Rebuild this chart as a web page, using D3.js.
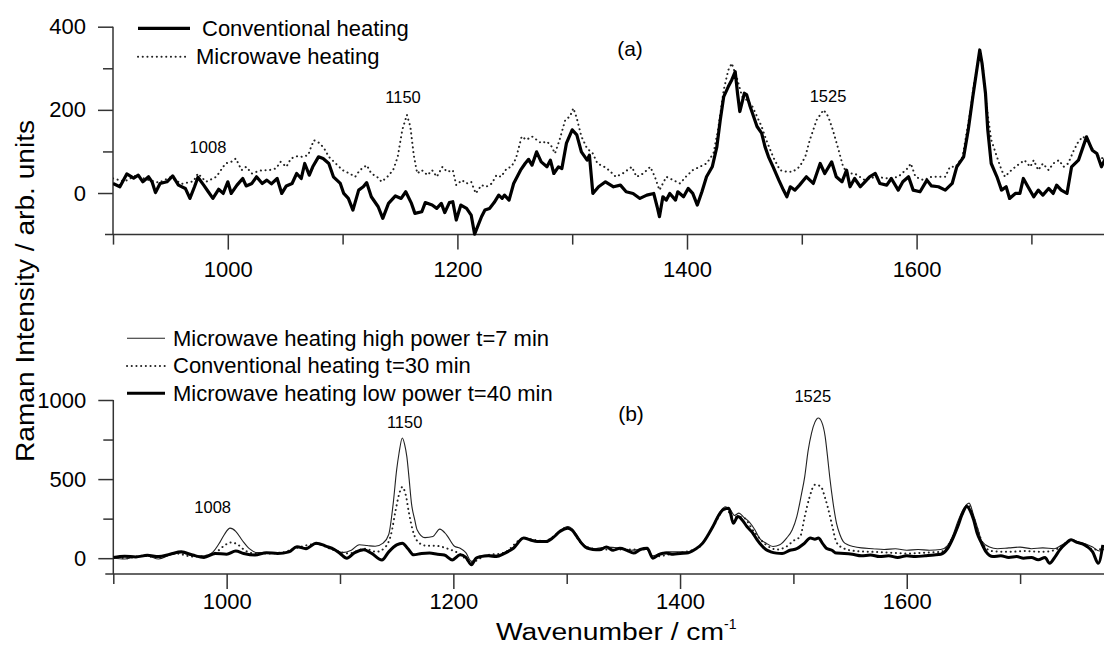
<!DOCTYPE html>
<html><head><meta charset="utf-8">
<script src="https://cdn.jsdelivr.net/npm/d3@7"></script>
<style>
body{margin:0;background:#fff;}
svg{display:block;font-family:"Liberation Sans",Arial,sans-serif;}
.axis path{display:none;}
.axis line{stroke:#333;stroke-width:1.5;}
.axis text{fill:#000;font-size:22px;font-family:"Liberation Sans",Arial,sans-serif;}
</style></head>
<body>
<svg id="c" width="1104" height="648"></svg>
<script>
// ---------- DATA ----------
const xMajorTicks = [1000, 1200, 1400, 1600];
const xMinorTicks = [900, 1100, 1300, 1500, 1700];
const topYMajor = [0, 200, 400];
const topYMinor = [100, 300];
const botYMajor = [0, 500, 1000];
const botYMinor = [250, 750];

// Panel (a): Conventional heating (solid)
const topConv = [[900,23],[906,15],[912,46],[918,36],[922,43],[926,27],[931,39],[934,27],[937,1],[941,23],[947,27],[952,41],[957,19],[963,11],[967,-13],[971,15],[974,38],[979,19],[983,3],[987,-13],[992,9],[996,-1],[1000,27],[1003,-1],[1008,19],[1013,35],[1016,17],[1021,23],[1025,39],[1030,23],[1034,31],[1038,22],[1043,35],[1047,-1],[1051,17],[1056,23],[1060,47],[1064,35],[1067,71],[1071,43],[1074,63],[1079,87],[1083,83],[1088,71],[1092,39],[1098,23],[1101,-1],[1105,-13],[1109,-41],[1114,7],[1118,15],[1121,25],[1125,-9],[1131,-33],[1135,-61],[1140,-25],[1146,-7],[1151,-13],[1155,3],[1160,-25],[1163,-49],[1169,-45],[1172,-23],[1178,-29],[1182,-37],[1186,-25],[1189,-47],[1193,-23],[1196,-21],[1199,-65],[1203,-29],[1208,-37],[1212,-53],[1215,-99],[1221,-57],[1224,-41],[1228,-37],[1232,-23],[1236,-5],[1239,-13],[1241,-5],[1245,-17],[1249,23],[1255,55],[1259,71],[1262,81],[1265,67],[1269,99],[1273,75],[1278,63],[1281,79],[1284,47],[1288,63],[1291,59],[1295,120],[1300,152],[1304,140],[1308,99],[1313,79],[1315,91],[1318,-1],[1323,15],[1329,27],[1336,15],[1342,19],[1347,3],[1353,-1],[1359,-13],[1365,-5],[1371,-1],[1374,-33],[1376,-57],[1379,-9],[1382,-17],[1385,-1],[1390,-17],[1392,3],[1397,-9],[1401,11],[1405,-1],[1409,-29],[1413,3],[1417,39],[1422,63],[1426,111],[1429,176],[1432,232],[1436,256],[1439,272],[1442,292],[1444,240],[1446,196],[1450,240],[1452,236],[1455,208],[1458,184],[1461,160],[1465,144],[1468,111],[1471,87],[1475,63],[1480,31],[1484,7],[1487,-9],[1490,15],[1494,7],[1498,19],[1504,39],[1510,23],[1516,71],[1520,47],[1526,75],[1530,39],[1535,27],[1539,55],[1542,15],[1546,35],[1551,15],[1555,27],[1559,39],[1564,47],[1568,23],[1574,19],[1578,35],[1584,7],[1588,27],[1593,39],[1597,7],[1603,3],[1609,31],[1613,17],[1619,15],[1625,7],[1631,23],[1635,63],[1641,87],[1645,152],[1649,232],[1652,288],[1655,344],[1657,312],[1660,240],[1662,152],[1665,71],[1670,39],[1674,7],[1678,15],[1681,-13],[1686,-1],[1690,-1],[1693,35],[1697,15],[1702,-9],[1706,7],[1710,-5],[1715,11],[1719,-1],[1722,19],[1726,7],[1731,-1],[1735,63],[1741,79],[1745,111],[1748,135],[1753,103],[1757,95],[1761,63],[1765,87],[1770,70]];

// Panel (a): Microwave heating (dotted)
const topMicro = [[900,35],[910,28],[920,42],[930,32],[940,25],[950,38],[960,22],[970,28],[974,47],[981,27],[990,39],[994,55],[998,71],[1003,75],[1007,83],[1012,55],[1016,63],[1021,47],[1025,51],[1030,55],[1036,55],[1042,59],[1046,75],[1051,63],[1055,83],[1061,89],[1065,87],[1070,91],[1072,107],[1075,127],[1080,120],[1084,107],[1088,87],[1094,71],[1100,55],[1106,47],[1111,39],[1115,55],[1121,67],[1125,47],[1130,39],[1134,27],[1139,39],[1144,55],[1148,87],[1152,152],[1156,188],[1159,160],[1162,91],[1165,47],[1169,55],[1174,43],[1178,55],[1182,39],[1187,63],[1191,51],[1196,55],[1199,19],[1204,31],[1208,23],[1212,27],[1216,-1],[1221,19],[1225,15],[1230,23],[1234,43],[1238,39],[1243,59],[1247,63],[1251,83],[1256,136],[1260,128],[1265,136],[1269,128],[1273,120],[1278,124],[1282,112],[1285,95],[1289,128],[1294,176],[1298,184],[1301,204],[1304,180],[1308,136],[1313,107],[1318,95],[1322,71],[1328,63],[1332,55],[1338,39],[1344,47],[1352,63],[1356,39],[1362,47],[1368,63],[1372,39],[1376,7],[1382,39],[1388,31],[1394,23],[1399,39],[1405,55],[1411,63],[1417,71],[1423,95],[1427,152],[1432,248],[1436,296],[1439,312],[1444,272],[1448,232],[1452,224],[1457,208],[1461,184],[1465,160],[1469,128],[1475,87],[1481,55],[1487,51],[1492,51],[1498,63],[1503,87],[1507,128],[1513,176],[1519,200],[1523,184],[1527,152],[1532,104],[1536,63],[1540,47],[1546,47],[1555,31],[1564,39],[1576,35],[1584,39],[1592,59],[1595,71],[1599,39],[1606,31],[1613,39],[1619,39],[1625,39],[1629,63],[1634,63],[1640,87],[1644,152],[1647,200],[1650,264],[1653,304],[1655,340],[1658,296],[1661,208],[1665,128],[1670,87],[1674,55],[1677,39],[1681,51],[1686,63],[1690,71],[1694,79],[1699,63],[1702,79],[1706,55],[1710,71],[1715,55],[1719,71],[1724,79],[1728,63],[1732,71],[1737,103],[1741,124],[1745,136],[1750,120],[1754,103],[1759,87],[1765,80],[1770,75]];

// Panel (b): Microwave heating high power t=7 min (thin)
const botHigh = [[900,0],[910,-5],[920,10],[930,15],[940,-5],[950,20],[960,35],[970,15],[980,15],[988,40],[994,100],[998,150],[1003,190],[1008,170],[1014,110],[1020,60],[1027,35],[1035,35],[1045,30],[1055,40],[1062,70],[1070,65],[1079,90],[1088,75],[1095,55],[1102,35],[1110,50],[1117,85],[1124,80],[1131,75],[1138,95],[1143,150],[1147,350],[1150,560],[1152,660],[1155,760],[1157,720],[1159,640],[1161,500],[1163,350],[1166,240],[1168,180],[1175,130],[1182,137],[1188,184],[1194,148],[1201,75],[1206,63],[1211,35],[1216,-20],[1222,10],[1230,20],[1238,20],[1245,35],[1253,70],[1262,130],[1268,120],[1274,110],[1282,110],[1288,135],[1294,175],[1301,200],[1305,185],[1309,145],[1313,100],[1318,70],[1325,60],[1335,70],[1345,65],[1355,50],[1365,55],[1371,60],[1376,15],[1382,30],[1390,40],[1400,40],[1408,40],[1415,65],[1420,100],[1425,150],[1430,220],[1435,290],[1440,325],[1444,310],[1448,270],[1452,285],[1456,260],[1461,230],[1466,180],[1470,127],[1476,95],[1482,74],[1488,85],[1494,127],[1499,180],[1503,263],[1507,400],[1510,516],[1513,680],[1516,791],[1519,860],[1522,886],[1525,860],[1528,770],[1530,650],[1532,516],[1535,350],[1538,222],[1541,150],[1544,105],[1548,85],[1553,74],[1560,65],[1570,60],[1580,55],[1590,60],[1600,50],[1610,55],[1620,50],[1630,55],[1636,80],[1641,150],[1645,230],[1650,310],[1655,348],[1659,270],[1663,180],[1666,110],[1673,70],[1680,60],[1690,65],[1700,70],[1710,60],[1720,65],[1730,60],[1736,80],[1741,100],[1746,118],[1752,100],[1758,90],[1764,70],[1770,45],[1775,60]];

// Panel (b): Conventional heating t=30 min (dotted)
const botConv = [[900,10],[912,0],[925,15],[940,5],[955,30],[970,10],[985,20],[993,50],[998,80],[1004,100],[1010,85],[1016,50],[1024,30],[1035,30],[1048,35],[1062,65],[1079,90],[1095,50],[1108,30],[1122,60],[1132,40],[1140,70],[1145,150],[1149,300],[1152,400],[1155,450],[1158,400],[1161,280],[1164,180],[1168,110],[1175,80],[1185,78],[1195,60],[1205,30],[1216,-25],[1228,15],[1245,35],[1262,125],[1280,108],[1301,195],[1315,80],[1330,55],[1350,55],[1371,55],[1376,10],[1395,30],[1415,60],[1430,210],[1440,315],[1447,260],[1455,260],[1465,170],[1475,90],[1485,55],[1494,74],[1500,110],[1506,137],[1510,263],[1514,380],[1519,464],[1524,455],[1528,380],[1532,274],[1535,180],[1538,100],[1545,60],[1555,45],[1570,40],[1585,35],[1600,30],[1615,35],[1630,40],[1641,140],[1648,260],[1654,340],[1658,280],[1663,170],[1668,80],[1675,45],[1690,40],[1705,45],[1720,40],[1730,50],[1740,95],[1746,110],[1755,90],[1765,55],[1775,60]];

// Panel (b): Microwave heating low power t=40 min (thick)
const botLow = [[900,5],[910,12],[920,8],[930,18],[940,10],[950,25],[960,40],[970,20],[980,5],[990,30],[1000,25],[1008,45],[1015,30],[1025,20],[1035,35],[1045,30],[1055,40],[1062,73],[1070,60],[1079,95],[1088,75],[1095,55],[1100,30],[1106,0],[1113,35],[1121,53],[1128,30],[1137,-11],[1143,40],[1150,84],[1155,95],[1160,60],[1165,21],[1172,30],[1179,32],[1186,25],[1192,20],[1199,-11],[1206,21],[1211,5],[1216,-42],[1220,0],[1224,10],[1231,15],[1238,10],[1245,30],[1253,63],[1262,127],[1268,115],[1274,105],[1282,105],[1288,130],[1294,168],[1301,190],[1305,175],[1309,137],[1313,95],[1318,63],[1323,55],[1329,53],[1335,70],[1341,50],[1347,63],[1353,50],[1359,32],[1365,55],[1371,63],[1376,0],[1382,25],[1388,32],[1394,25],[1400,30],[1406,32],[1413,55],[1420,95],[1425,150],[1429,200],[1434,270],[1438,306],[1443,316],[1447,221],[1451,263],[1455,240],[1459,200],[1464,160],[1468,116],[1472,80],[1476,53],[1480,40],[1485,32],[1490,30],[1497,50],[1503,60],[1509,90],[1515,127],[1519,120],[1522,127],[1526,90],[1529,63],[1534,50],[1538,32],[1545,30],[1552,25],[1560,15],[1568,20],[1576,10],[1584,15],[1592,5],[1600,15],[1608,10],[1616,15],[1624,20],[1630,25],[1636,60],[1641,130],[1645,200],[1649,280],[1653,327],[1656,300],[1659,242],[1662,160],[1666,95],[1670,40],[1676,10],[1683,15],[1690,5],[1697,10],[1703,0],[1710,5],[1716,-10],[1722,5],[1726,-32],[1731,10],[1735,53],[1740,90],[1745,116],[1750,100],[1755,90],[1759,74],[1764,40],[1769,-32],[1773,84]];

const topLegend = ["Conventional heating", "Microwave heating"];
const botLegend = ["Microwave heating high power t=7 min", "Conventional heating t=30 min", "Microwave heating low power t=40 min"];
const peakLabels = ["1008", "1150", "1525"];
const peakPos = [1008, 1150, 1525];
const topPeakV = [96, 216, 220];
const botPeakV = [288, 825, 985];

// ---------- DRAW ----------
const svg = d3.select("#c");
const FONT = '"Liberation Sans",Arial,sans-serif';

function panel(cfg) {
  const x = d3.scaleLinear().domain([900, 1800]).range([cfg.x0, cfg.x0 + 900 * cfg.kx]);
  const y = d3.scaleLinear().domain(cfg.yDomain).range(cfg.yRange);
  const g = svg.append("g");
  const xAxisY = y(cfg.yDomain[0]);
  const yTop = y(cfg.yDomain[1]);

  g.append("line").attr("x1", cfg.x0 - 8).attr("x2", 1104).attr("y1", xAxisY).attr("y2", xAxisY)
    .attr("stroke", "#333").attr("stroke-width", 1.5);
  g.append("line").attr("x1", cfg.x0).attr("x2", cfg.x0).attr("y1", yTop).attr("y2", xAxisY)
    .attr("stroke", "#333").attr("stroke-width", 1.5);

  g.append("g").attr("class", "axis").attr("transform", `translate(0,${xAxisY})`)
    .call(d3.axisBottom(x).tickValues(xMajorTicks).tickSize(15).tickPadding(cfg.xPad).tickFormat(d3.format("d")));
  g.append("g").attr("class", "axis").attr("transform", `translate(0,${xAxisY})`)
    .call(d3.axisBottom(x).tickValues(xMinorTicks).tickSize(10).tickFormat(""));
  g.append("g").attr("class", "axis").attr("transform", `translate(${cfg.x0},0)`)
    .call(d3.axisLeft(y).tickValues(cfg.yMajor).tickSize(15).tickPadding(12).tickFormat(d3.format("d")));
  g.append("g").attr("class", "axis").attr("transform", `translate(${cfg.x0},0)`)
    .call(d3.axisLeft(y).tickValues(cfg.yMinor).tickSize(10).tickFormat(""));

  const cid = "clip" + cfg.id;
  svg.append("clipPath").attr("id", cid).append("rect")
    .attr("x", cfg.x0).attr("y", 0).attr("width", 1104 - cfg.x0).attr("height", xAxisY + 2);

  const line = d3.line().x(d => x(d[0])).y(d => y(d[1])).curve(cfg.curve);
  const lg = g.append("g").attr("clip-path", `url(#${cid})`);
  cfg.series.forEach(s => {
    lg.append("path").datum(s.data).attr("d", line).attr("fill", "none")
      .attr("stroke", s.color).attr("stroke-width", s.width)
      .attr("stroke-dasharray", s.dash || null).attr("stroke-linecap", s.dash ? "round" : "butt")
      .attr("stroke-linejoin", "round");
  });

  peakLabels.forEach((lab, i) => {
    g.append("text").attr("x", x(peakPos[i]) + cfg.peakDx[i]).attr("y", y(cfg.peakV[i]))
      .attr("text-anchor", "middle").attr("font-size", 16.5).attr("font-family", FONT).text(lab);
  });
  g.append("text").attr("x", cfg.letterX).attr("y", cfg.letterY).attr("text-anchor", "middle")
    .attr("font-size", 21).attr("font-family", FONT).text(cfg.letter);

  cfg.legend.forEach(l => {
    g.append("line").attr("x1", l.x1).attr("x2", l.x2).attr("y1", l.ly).attr("y2", l.ly)
      .attr("stroke", l.color).attr("stroke-width", l.width)
      .attr("stroke-dasharray", l.dash || null).attr("stroke-linecap", l.dash ? "round" : "butt");
    g.append("text").attr("x", l.tx).attr("y", l.ty).attr("font-size", 22).attr("font-family", FONT)
      .text(l.text);
  });
}

const DOT = "0.1 4.6";

panel({
  id: "a", x0: 113, kx: 1.148, yDomain: [-100, 400], yRange: [234.6, 26.7],
  yMajor: topYMajor, yMinor: topYMinor, xPad: 12, curve: d3.curveLinear,
  series: [
    {data: topMicro, color: "#222", width: 2, dash: DOT},
    {data: topConv, color: "#000", width: 3.2}
  ],
  peakV: topPeakV, peakDx: [-29, 3, -2.5],
  letter: "(a)", letterX: 630, letterY: 56,
  legend: [
    {text: topLegend[0], x1: 138, x2: 190, ly: 28.3, tx: 202, ty: 36, color: "#000", width: 3.2},
    {text: topLegend[1], x1: 138, x2: 188, ly: 56.7, tx: 196, ty: 64, color: "#222", width: 2, dash: DOT}
  ]
});

panel({
  id: "b", x0: 113.3, kx: 1.1335, yDomain: [-100, 1000], yRange: [574, 400],
  yMajor: botYMajor, yMinor: botYMinor, xPad: 4, curve: d3.curveMonotoneX,
  series: [
    {data: botHigh, color: "#222", width: 1.1},
    {data: botConv, color: "#222", width: 2, dash: DOT},
    {data: botLow, color: "#000", width: 3}
  ],
  peakV: botPeakV, peakDx: [-23, 8, -9],
  letter: "(b)", letterX: 631, letterY: 421,
  legend: [
    {text: botLegend[0], x1: 127, x2: 165, ly: 338.3, tx: 173, ty: 345.5, color: "#222", width: 1.1},
    {text: botLegend[1], x1: 127, x2: 165, ly: 366, tx: 173, ty: 372.5, color: "#222", width: 2, dash: DOT},
    {text: botLegend[2], x1: 127, x2: 165, ly: 393.3, tx: 173, ty: 400.5, color: "#000", width: 3}
  ]
});

svg.append("text").attr("transform", "translate(34,291) rotate(-90)").attr("text-anchor", "middle")
  .attr("font-size", 25).attr("font-family", FONT)
  .attr("textLength", 342).attr("lengthAdjust", "spacingAndGlyphs")
  .text("Raman Intensity / arb. units");
const xt = svg.append("text").attr("x", 496).attr("y", 640).attr("font-size", 23).attr("font-family", FONT);
xt.append("tspan").attr("textLength", 228).attr("lengthAdjust", "spacingAndGlyphs").text("Wavenumber / cm");
xt.append("tspan").attr("font-size", 14).attr("dy", -11).text("-1");
</script>
</body></html>
